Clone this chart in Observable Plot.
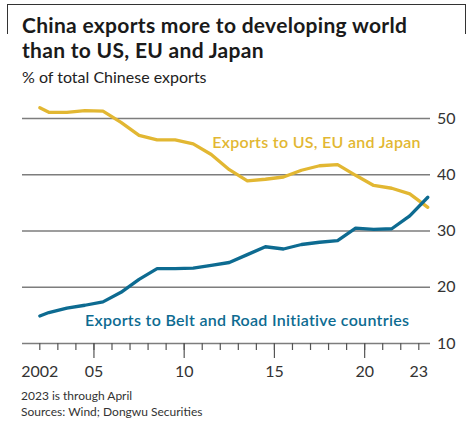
<!DOCTYPE html>
<html><head><meta charset="utf-8">
<script src="https://cdn.jsdelivr.net/npm/d3@7"></script>
<script src="https://cdn.jsdelivr.net/npm/@observablehq/plot@0.6"></script>
<style>
body{margin:0;background:#fff;width:470px;height:422px;position:relative;overflow:hidden;font-family:Lato,sans-serif;color:#1a1a1a}
#frame{position:absolute;left:7px;top:4px;width:459px;height:30px;border:1.3px solid #333;border-bottom:none;box-sizing:border-box}
#title{position:absolute;left:22px;top:12px;font-size:21px;letter-spacing:0.3px;font-weight:700;line-height:25px;color:#1a1a1a;white-space:nowrap}
#subtitle{position:absolute;left:22px;top:68px;font-size:16px;line-height:18px;color:#222;white-space:nowrap}
#chart{position:absolute;left:0;top:90px}
#notes{position:absolute;left:21px;top:388px;font-size:12px;line-height:16px;color:#333;white-space:nowrap}
</style></head>
<body>
<div id="frame"></div>
<div id="title">China exports more to developing world<br>than to US, EU and Japan</div>
<div id="subtitle">% of total Chinese exports</div>
<div id="chart"></div>
<div id="notes">2023 is through April<br>Sources: Wind; Dongwu Securities</div>
<script>
// Data (annual shares, plotted mid-year; line starts at 2002)
const periods = [2002.0, 2002.5, 2003.5, 2004.5, 2005.5, 2006.5, 2007.5, 2008.5, 2009.5, 2010.5, 2011.5, 2012.5, 2013.5, 2014.5, 2015.5, 2016.5, 2017.5, 2018.5, 2019.5, 2020.5, 2021.5, 2022.5, 2023.5];
const usEuJapan = [51.9, 51.1, 51.1, 51.4, 51.3, 49.3, 47.0, 46.2, 46.2, 45.5, 43.6, 40.9, 38.9, 39.2, 39.6, 40.8, 41.6, 41.8, 39.9, 38.1, 37.6, 36.6, 34.2];
const beltRoad = [14.9, 15.5, 16.3, 16.8, 17.4, 19.1, 21.4, 23.3, 23.3, 23.4, 23.9, 24.4, 25.8, 27.2, 26.8, 27.6, 28.0, 28.3, 30.5, 30.3, 30.4, 32.7, 36.0];
const seriesNames = ["Exports to US, EU and Japan", "Exports to Belt and Road Initiative countries"];
const seriesColors = ["#E2B732", "#0D6B91"];
const labelYears = [2011.55, 2004.5];
const labelValues = [45.75, 14.05];
const tickYears = [2002, 2003, 2004, 2005, 2006, 2007, 2008, 2009, 2010, 2011, 2012, 2013, 2014, 2015, 2016, 2017, 2018, 2019, 2020, 2021, 2022, 2023];
const majorYears = [2005, 2010, 2015, 2020];
const labeledYears = [2002, 2005, 2010, 2015, 2020, 2023];
const xTickLabels = ["2002", "05", "10", "15", "20", "23"];
const yTicks = [10, 20, 30, 40, 50];

const rows = [];
periods.forEach((p, i) => {
  rows.push({year: p, value: usEuJapan[i], series: seriesNames[0]});
  rows.push({year: p, value: beltRoad[i], series: seriesNames[1]});
});
const labels = seriesNames.map((s, i) => ({series: s, year: labelYears[i], value: labelValues[i]}));

const chart = Plot.plot({
  width: 470, height: 300,
  marginLeft: 22, marginRight: 40, marginTop: 28, marginBottom: 47,
  style: {fontFamily: "Lato, sans-serif", background: "transparent", color: "#333"},
  x: {domain: [2002, 2023], range: [39.3, 418.3]},
  y: {domain: [10, 50], range: [253, 28]},
  color: {domain: seriesNames, range: seriesColors},
  marks: [
    Plot.ruleY(yTicks, {stroke: "#7d7d7d", strokeWidth: 1.3}),
    Plot.axisX(tickYears, {tickSize: 7, text: null, stroke: "#555", strokeWidth: 1.2, label: null}),
    Plot.axisX(majorYears, {tickSize: 15, text: null, stroke: "#555", strokeWidth: 1.2, label: null}),
    Plot.axisX(labeledYears, {tickSize: 0, tickPadding: 22.6, fontSize: 16, fill: "#333", label: null,
      tickFormat: d => xTickLabels[labeledYears.indexOf(d)]}),
    Plot.axisY(yTicks, {anchor: "right", tickSize: 0, tickPadding: 6.5, fontSize: 16, fill: "#333", label: null}),
    Plot.line(rows, {x: "year", y: "value", z: "series", stroke: "series", strokeWidth: 3.3, clip: false}),
    Plot.text(labels, {x: "year", y: "value", text: "series", fill: "series", textAnchor: "start",
      lineAnchor: "middle", fontSize: 16, fontWeight: 600})
  ]
});
chart.querySelectorAll("text").forEach(t => {
  if (t.textContent.startsWith("Exports")) t.setAttribute("letter-spacing", "0.3");
});
document.getElementById("chart").appendChild(chart);
</script>
</body></html>
